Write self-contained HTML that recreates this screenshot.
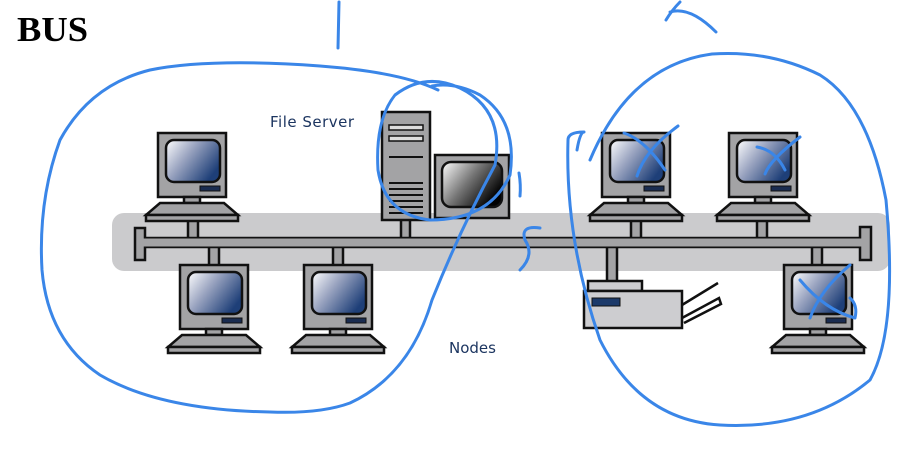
<!DOCTYPE html>
<html><head><meta charset="utf-8"><style>
html,body{margin:0;padding:0;background:#fff;}
svg{display:block;}
</style></head><body>
<svg width="917" height="456" viewBox="0 0 917 456" xmlns="http://www.w3.org/2000/svg">
<defs>
<linearGradient id="scr" x1="0" y1="0" x2="1" y2="0.6">
<stop offset="0" stop-color="#ffffff"/><stop offset="0.45" stop-color="#9aa4c0"/><stop offset="1" stop-color="#1e3f78"/>
</linearGradient>
<linearGradient id="scr2" x1="0" y1="0" x2="1" y2="0.6">
<stop offset="0" stop-color="#ffffff"/><stop offset="0.5" stop-color="#777"/><stop offset="1" stop-color="#000"/>
</linearGradient>
<g id="pc" stroke="#111" stroke-width="2.5">
<rect x="0" y="0" width="68" height="64" fill="#a3a3a5"/>
<rect x="8" y="7" width="54" height="42" rx="8" fill="url(#scr)"/>
<rect x="42" y="53" width="20" height="5" fill="#1a2c50" stroke-width="1"/>
<rect x="26" y="64" width="16" height="6" fill="#a3a3a5"/>
<path d="M2 70 H66 L80 82 H-12 Z" fill="#a3a3a5"/>
<rect x="-12" y="82" width="92" height="6" fill="#a3a3a5"/>
</g>
</defs>
<text x="17" y="41" font-family="Liberation Serif, serif" font-weight="bold" font-size="35" fill="#000" textLength="71" lengthAdjust="spacingAndGlyphs">BUS</text>
<rect x="112" y="213" width="778" height="58" rx="12" fill="#cbcbcd"/>
<g fill="#a3a3a5" stroke="#111" stroke-width="2.5">
<rect x="188" y="216" width="10" height="24"/>
<rect x="401" y="216" width="9" height="24"/>
<rect x="631" y="216" width="10" height="24"/>
<rect x="757" y="216" width="10" height="24"/>
<rect x="209" y="246" width="10" height="22"/>
<rect x="333" y="246" width="10" height="22"/>
<rect x="607" y="246" width="10" height="36"/>
<rect x="812" y="246" width="10" height="22"/>
<rect x="140" y="238" width="724" height="9"/>
<rect x="135" y="228" width="10" height="32"/>
<rect x="860" y="227" width="11" height="33"/>
</g>
<g fill="#a3a3a5" stroke="#a3a3a5"><rect x="141" y="239" width="722" height="7"/></g>
<use href="#pc" x="158" y="133"/>
<use href="#pc" x="180" y="265"/>
<use href="#pc" x="304" y="265"/>
<use href="#pc" x="602" y="133"/>
<use href="#pc" x="729" y="133"/>
<use href="#pc" x="784" y="265"/>
<g stroke="#111" stroke-width="2.5">
<rect x="382" y="112" width="48" height="108" fill="#a3a3a5"/>
<rect x="389" y="125" width="34" height="5" fill="#ddd" stroke-width="1.5"/>
<rect x="389" y="136" width="34" height="5" fill="#ddd" stroke-width="1.5"/>
<g stroke-width="2"><line x1="389" y1="157" x2="423" y2="157"/><line x1="389" y1="183" x2="423" y2="183"/><line x1="389" y1="189" x2="423" y2="189"/><line x1="389" y1="195" x2="423" y2="195"/><line x1="389" y1="201" x2="423" y2="201"/><line x1="389" y1="207" x2="423" y2="207"/><line x1="389" y1="213" x2="423" y2="213"/></g>
<rect x="435" y="155" width="74" height="63" fill="#a3a3a5"/>
<rect x="442" y="162" width="60" height="45" rx="9" fill="url(#scr2)"/>
<rect x="588" y="281" width="54" height="10" fill="#cdcdd0"/>
<rect x="584" y="291" width="98" height="37" fill="#cdcdd0"/>
<rect x="592" y="298" width="28" height="8" fill="#1c3a6a" stroke-width="1"/>
<path d="M682 305 L718 283 M682 318 L719 298 L721 304 L684 323" fill="none"/>
</g>
<text x="270" y="127" font-family="DejaVu Sans, sans-serif" font-size="15" fill="#1c3560" letter-spacing="0.5">File Server</text>
<text x="449" y="353" font-family="DejaVu Sans, sans-serif" font-size="15" fill="#1c3560">Nodes</text>
<g fill="none" stroke="#3a86e8" stroke-width="3" stroke-linecap="round" stroke-linejoin="round">
<path d="M339 2 L338 48"/>
<path d="M666 20 Q672 10 680 2 M670 12 Q690 6 716 32"/>
<path d="M438 90 Q400 72 320 66 Q210 58 150 70 Q90 85 60 140 Q38 200 42 270 Q48 340 100 375 Q160 410 270 412 Q320 414 350 403 Q410 375 432 300 Q460 230 495 165 Q505 110 460 88 Q425 72 395 95 Q375 120 378 170 Q385 215 430 220 Q490 220 510 175 Q518 120 480 95 Q455 82 432 86"/>
<path d="M519 173 Q521 185 520 196"/>
<path d="M540 228 Q520 225 525 240 Q535 255 520 270"/>
<path d="M577 150 Q580 132 584 132 Q568 132 568 140 Q565 240 600 340 Q640 420 720 425 Q810 430 870 380 Q898 330 886 200 Q868 105 820 75 Q770 50 712 54 Q630 65 590 160"/>
<path d="M624 133 Q645 140 665 170 M637 176 Q645 150 678 126"/>
<path d="M757 147 Q775 150 785 170 M765 174 Q770 160 800 137"/>
<path d="M800 280 Q825 310 855 318 Q858 305 850 298 M810 318 Q820 290 850 265"/>
</g>
</svg>
</body></html>
